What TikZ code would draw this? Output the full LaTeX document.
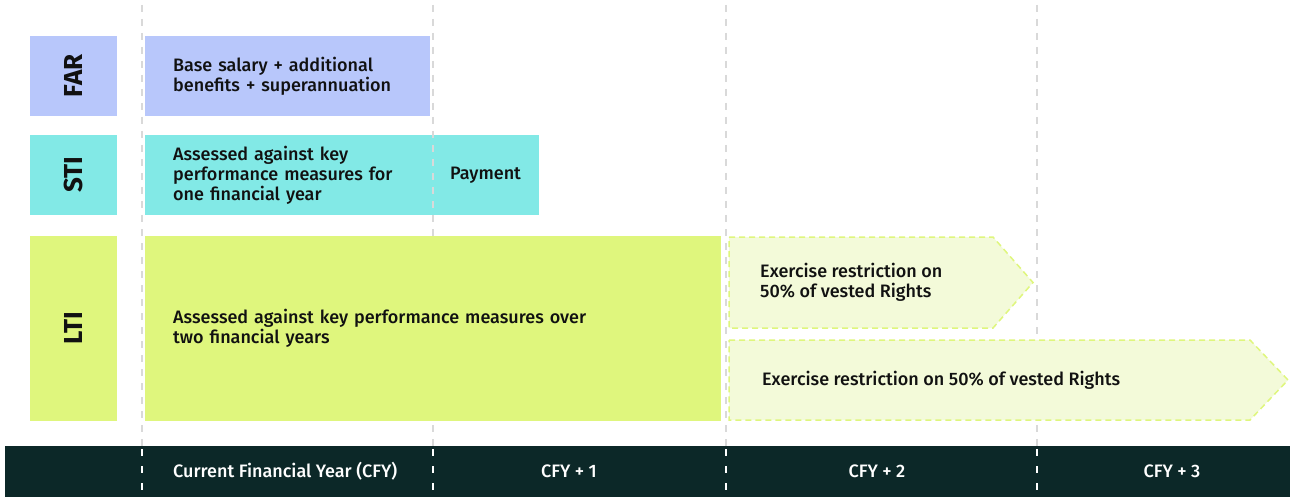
\documentclass[tikz,border=0pt]{standalone}
\usepackage{fontspec}
\setmainfont{Fira Sans}[UprightFont={* Medium},BoldFont={* Bold}]
\usetikzlibrary{positioning}
\definecolor{farblue}{HTML}{B8C7FB}
\definecolor{sticyan}{HTML}{82E9E6}
\definecolor{ltilime}{HTML}{DFF67D}
\definecolor{ltipale}{HTML}{F3FAD9}
\definecolor{bandgreen}{HTML}{0C2828}
\definecolor{gridgray}{HTML}{D9D9D9}
\definecolor{inkblack}{HTML}{111111}
\tikzset{%
    tag/.style={rotate=90,inner sep=0pt,minimum height=87pt,text=inkblack,
        font=\bfseries\fontsize{26}{26}\selectfont},
    plan/.style={anchor=north west,inner xsep=28pt,inner ysep=0pt,align=left,
        text=inkblack,font=\fontsize{18}{20}\selectfont},
    note/.style={anchor=west,inner sep=0pt,align=left,text=inkblack,
        font=\fontsize{18}{20}\selectfont},
    year/.style={inner sep=0pt,text=white,font=\fontsize{18}{18}\selectfont},
    gridline/.style={gridgray,line width=1.3pt,dash pattern=on 7pt off 7pt}
}

\begin{document}
\begin{tikzpicture}[x=1pt,y=-1pt]
            \useasboundingbox (0,0) rectangle (1290,497);

            % row labels
            \node[tag,fill=farblue,minimum width=80pt] (far) at (73.5,76){FAR};
            \node[tag,fill=sticyan,minimum width=80pt] (sti) at (73.5,175){STI};
            \node[tag,fill=ltilime,minimum width=185pt] (lti) at (73.5,328.5){LTI};

            % plans
            \node[plan,fill=farblue,minimum width=285pt,minimum height=80pt,text width=229pt] (farplan) at (145,36)
                {Base salary + additional\\benefits + superannuation};
            \node[plan,fill=sticyan,minimum width=394pt,minimum height=80pt,text width=338pt] (stiplan) at (145,135)
                {Assessed against key\\performance measures for\\one financial year};
            \node[note] (payment) at (450,175){Payment};

            % year separators
            \foreach \x in {142,433,726,1037}
                \draw[gridline] (\x,5) -- (\x,446);

            \node[plan,fill=ltilime,minimum width=576pt,minimum height=185pt,text width=520pt] (ltiplan) at (145,236)
                {Assessed against key performance measures over\\two financial years};

            % exercise restrictions
            \filldraw[fill=ltipale,draw=ltilime,line width=1.5pt,dash pattern=on 6pt off 4pt]
                (729,237) -- (993,237) -- (1033,282.5) -- (993,328) -- (729,328) -- cycle;
            \node[note] (restrictA) at (760,282.5){Exercise restriction on\\50\% of vested Rights};
            \filldraw[fill=ltipale,draw=ltilime,line width=1.5pt,dash pattern=on 6pt off 4pt]
                (729,340) -- (1250,340) -- (1288,380) -- (1250,420) -- (729,420) -- cycle;
            \node[note] (restrictB) at (762,380){Exercise restriction on 50\% of vested Rights};

            % timeline
            \node[fill=bandgreen,anchor=north west,inner sep=0pt,minimum width=1285pt,minimum height=51pt] (axis) at (5,446){};
            \foreach \x in {142,433,726,1037}
                \draw[white,line width=1.3pt,dash pattern=on 7pt off 10pt] (\x,449) -- (\x,497);
            \node[year,anchor=west] (cfy) at (173,471.5){Current Financial Year (CFY)};
            \node[year] (cfyA) at (569,471.5){CFY + 1};
            \node[year] (cfyB) at (877,471.5){CFY + 2};
            \node[year] (cfyC) at (1172,471.5){CFY + 3};
\end{tikzpicture}
\end{document}
